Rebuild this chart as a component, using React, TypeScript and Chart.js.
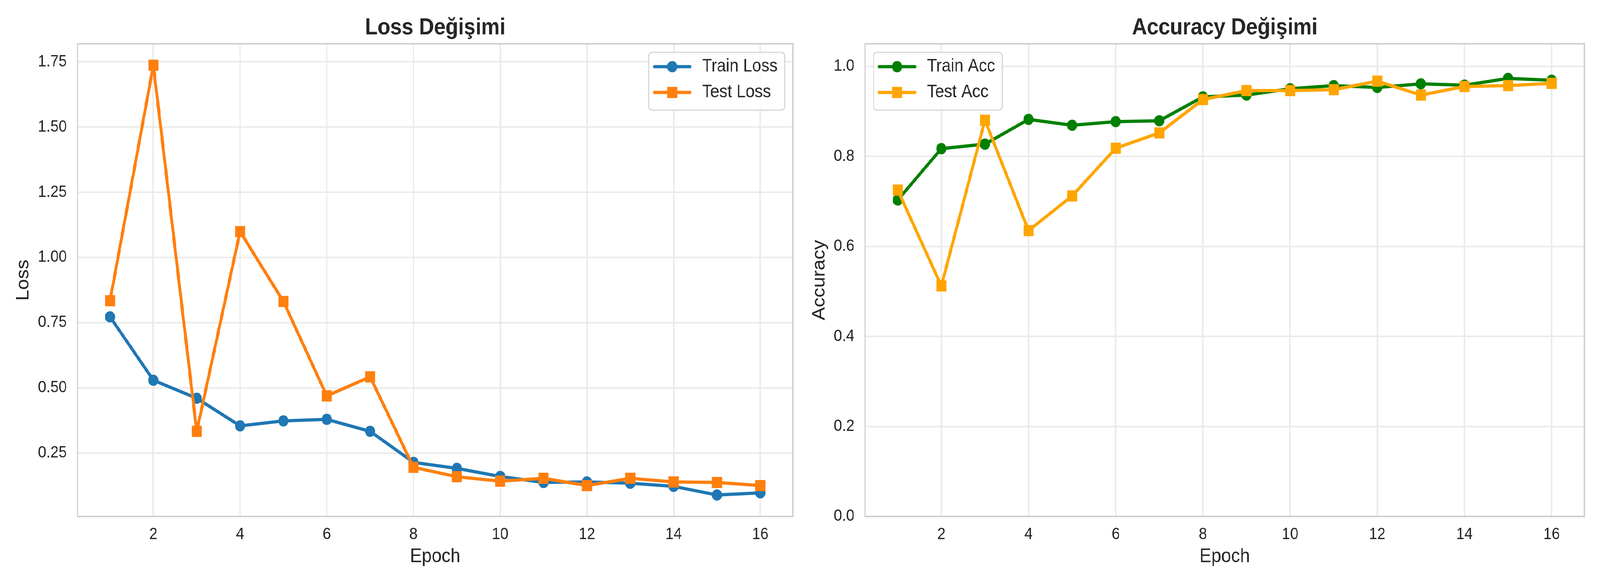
import React, { useEffect, useRef, useState } from "react";
import { Chart, registerables } from "chart.js";

Chart.register(...registerables);

const FONT = '"Liberation Sans", Arial, Helvetica, sans-serif';
const TEXT = "#262626";

const epochs = [1, 2, 3, 4, 5, 6, 7, 8, 9, 10, 11, 12, 13, 14, 15, 16];
const trainLoss = [0.772, 0.529, 0.46, 0.354, 0.373, 0.379, 0.333, 0.214, 0.191, 0.16, 0.137, 0.139, 0.134, 0.122, 0.089, 0.097];
const testLoss = [0.834, 1.737, 0.333, 1.099, 0.831, 0.469, 0.542, 0.195, 0.159, 0.142, 0.153, 0.125, 0.153, 0.139, 0.137, 0.125];
const trainAcc = [0.703, 0.817, 0.827, 0.882, 0.869, 0.877, 0.879, 0.932, 0.936, 0.95, 0.957, 0.953, 0.961, 0.958, 0.973, 0.969];
const testAcc = [0.725, 0.512, 0.88, 0.635, 0.712, 0.818, 0.852, 0.926, 0.946, 0.946, 0.948, 0.967, 0.936, 0.955, 0.957, 0.962];

const xTicks = [2, 4, 6, 8, 10, 12, 14, 16];
const lossTicks = [0.25, 0.5, 0.75, 1.0, 1.25, 1.5, 1.75];
const accTicks = [0.0, 0.2, 0.4, 0.6, 0.8, 1.0];

const lossTitle = "Loss Değişimi";
const accTitle = "Accuracy Değişimi";

type Series = { label: string; values: number[]; color: string; marker: "circle" | "rect"; order: number };

const lossSeries: Series[] = [
  { label: "Train Loss", values: trainLoss, color: "#1f77b4", marker: "circle", order: 2 },
  { label: "Test Loss", values: testLoss, color: "#ff7f0e", marker: "rect", order: 1 },
];
const accSeries: Series[] = [
  { label: "Train Acc", values: trainAcc, color: "#008000", marker: "circle", order: 2 },
  { label: "Test Acc", values: testAcc, color: "#ffa500", marker: "rect", order: 1 },
];

const allLoss = [...trainLoss, ...testLoss];
const lossMinV = Math.min(...allLoss);
const lossMaxV = Math.max(...allLoss);
const lossPad = (lossMaxV - lossMinV) * 0.05;

type Props = {
  left: number;
  width: number;
  title: string;
  yLabel: string;
  series: Series[];
  yMin: number;
  yMax: number;
  yTicks: number[];
  decimals: number;
  yAxisWidth: number;
  yTitlePad: number;
  padRight: number;
  legendSide: "left" | "right";
};

function drawMarker(ctx: CanvasRenderingContext2D, kind: string, x: number, y: number, color: string) {
  ctx.fillStyle = color;
  ctx.beginPath();
  if (kind === "circle") {
    ctx.arc(x, y, 14.4, 0, Math.PI * 2);
  } else {
    ctx.rect(x - 14.3, y - 14.3, 28.6, 28.6);
  }
  ctx.fill();
}

function PlotPanel(p: Props) {
  const ref = useRef<HTMLCanvasElement | null>(null);
  useEffect(() => {
    const canvas = ref.current;
    if (!canvas) return;

    const framePlugin = {
      id: "frame",
      afterDatasetsDraw(chart: any) {
        const { ctx, chartArea: ca } = chart;
        ctx.save();
        ctx.strokeStyle = "#cccccc";
        ctx.lineWidth = 3.5;
        ctx.strokeRect(ca.left, ca.top, ca.right - ca.left, ca.bottom - ca.top);
        ctx.restore();
      },
    };

    const titlePlugin = {
      id: "plotTitle",
      afterDraw(chart: any) {
        const { ctx, chartArea: ca } = chart;
        ctx.save();
        ctx.font = `bold 58.3px ${FONT}`;
        ctx.fillStyle = TEXT;
        ctx.textAlign = "center";
        ctx.textBaseline = "alphabetic";
        ctx.fillText(p.title, (ca.left + ca.right) / 2, 88);
        ctx.restore();
      },
    };

    const legendPlugin = {
      id: "boxLegend",
      afterDraw(chart: any) {
        const { ctx, chartArea: ca } = chart;
        const items = chart.data.datasets;
        ctx.save();
        ctx.font = `45.8px ${FONT}`;
        const tw = Math.max(...items.map((d: any) => ctx.measureText(d.label).width));
        const w = 150 + tw + 20;
        const h = 148;
        const x0 = p.legendSide === "right" ? ca.right - 23 - w : ca.left + 24;
        const y0 = ca.top + 22;
        const r = 9;
        ctx.beginPath();
        ctx.moveTo(x0 + r, y0);
        ctx.lineTo(x0 + w - r, y0);
        ctx.arcTo(x0 + w, y0, x0 + w, y0 + r, r);
        ctx.lineTo(x0 + w, y0 + h - r);
        ctx.arcTo(x0 + w, y0 + h, x0 + w - r, y0 + h, r);
        ctx.lineTo(x0 + r, y0 + h);
        ctx.arcTo(x0, y0 + h, x0, y0 + h - r, r);
        ctx.lineTo(x0, y0 + r);
        ctx.arcTo(x0, y0, x0 + r, y0, r);
        ctx.closePath();
        ctx.fillStyle = "rgba(255,255,255,0.8)";
        ctx.fill();
        ctx.strokeStyle = "#d6d6d6";
        ctx.lineWidth = 3;
        ctx.stroke();
        items.forEach((d: any, i: number) => {
          const cy = y0 + 36.7 + i * 66;
          ctx.beginPath();
          ctx.strokeStyle = d.borderColor;
          ctx.lineWidth = 8.3;
          ctx.lineCap = "round";
          ctx.moveTo(x0 + 16, cy);
          ctx.lineTo(x0 + 116, cy);
          ctx.stroke();
          drawMarker(ctx, d.pointStyle, x0 + 66, cy, d.borderColor);
          ctx.fillStyle = TEXT;
          ctx.textAlign = "left";
          ctx.textBaseline = "middle";
          ctx.fillText(d.label, x0 + 150, cy);
        });
        ctx.restore();
      },
    };

    const chart = new Chart(canvas, {
      type: "line",
      data: {
        datasets: p.series.map((s) => ({
          label: s.label,
          data: epochs.map((e, i) => ({ x: e, y: s.values[i] })),
          borderColor: s.color,
          backgroundColor: s.color,
          borderWidth: 8.3,
          borderJoinStyle: "round" as const,
          borderCapStyle: "round" as const,
          pointStyle: s.marker,
          pointRadius: s.marker === "circle" ? 14.4 : 20.2,
          pointBorderWidth: 0,
          pointBackgroundColor: s.color,
          pointBorderColor: s.color,
          tension: 0,
          fill: false,
          order: s.order,
        })),
      },
      options: {
        animation: false,
        responsive: false,
        devicePixelRatio: 1,
        events: [],
        layout: { padding: { top: 112, left: 0, right: p.padRight, bottom: 0 } },
        plugins: {
          legend: { display: false },
          title: { display: false },
          tooltip: { enabled: false },
        },
        scales: {
          x: {
            type: "linear",
            min: 0.25,
            max: 16.75,
            afterBuildTicks: (scale: any) => {
              scale.ticks = xTicks.map((v) => ({ value: v }));
            },
            afterFit: (scale: any) => {
              scale.height = 178;
            },
            ticks: {
              autoSkip: false,
              maxRotation: 0,
              padding: 21,
              color: TEXT,
              font: { family: FONT, size: 41.7 },
              callback: (v: any) => String(v),
            },
            grid: { color: "#ebebeb", lineWidth: 4, drawTicks: false },
            border: { display: false },
            title: {
              display: true,
              text: "Epoch",
              color: TEXT,
              font: { family: FONT, size: 50 },
              padding: { top: 0, bottom: 45 },
            },
          },
          y: {
            type: "linear",
            min: p.yMin,
            max: p.yMax,
            afterBuildTicks: (scale: any) => {
              scale.ticks = p.yTicks.map((v) => ({ value: v }));
            },
            afterFit: (scale: any) => {
              scale.width = p.yAxisWidth;
            },
            ticks: {
              autoSkip: false,
              padding: 30,
              color: TEXT,
              font: { family: FONT, size: 41.7 },
              callback: (v: any) => Number(v).toFixed(p.decimals),
            },
            grid: { color: "#ebebeb", lineWidth: 4, drawTicks: false },
            border: { display: false },
            title: {
              display: true,
              text: p.yLabel,
              color: TEXT,
              font: { family: FONT, size: 50 },
              padding: { top: p.yTitlePad, bottom: 0 },
            },
          },
        },
      },
      plugins: [framePlugin, titlePlugin, legendPlugin],
    } as any);
    return () => chart.destroy();
  }, []);

  return (
    <canvas
      ref={ref}
      width={p.width}
      height={1500}
      style={{ position: "absolute", left: p.left, top: 0, width: p.width, height: 1500 }}
    />
  );
}

export default function App() {
  const [scale] = useState(() => {
    const w = typeof window !== "undefined" ? window.innerWidth : 4500;
    const h = typeof window !== "undefined" ? window.innerHeight : 1500;
    return { sx: Math.min(1, w / 4500), sy: Math.min(1, h / 1500) };
  });
  return (
    <div style={{ position: "absolute", left: 0, top: 0, width: "100vw", height: "100vh", overflow: "hidden", background: "#ffffff" }}>
      <div
        style={{
          position: "absolute",
          left: 0,
          top: 0,
          width: 4500,
          height: 1500,
          background: "#ffffff",
          transform: `scale(${scale.sx}, ${scale.sy})`,
          transformOrigin: "0 0",
        }}
      >
        <PlotPanel
          left={0}
          width={2250}
          title={lossTitle}
          yLabel="Loss"
          series={lossSeries}
          yMin={lossMinV - lossPad}
          yMax={lossMaxV + lossPad}
          yTicks={lossTicks}
          decimals={2}
          yAxisWidth={218}
          yTitlePad={36.5}
          padRight={10}
          legendSide="right"
        />
        <PlotPanel
          left={2250}
          width={2250}
          title={accTitle}
          yLabel="Accuracy"
          series={accSeries}
          yMin={0}
          yMax={1.05}
          yTicks={accTicks}
          decimals={1}
          yAxisWidth={183}
          yTitlePad={25.5}
          padRight={44}
          legendSide="left"
        />
      </div>
    </div>
  );
}
